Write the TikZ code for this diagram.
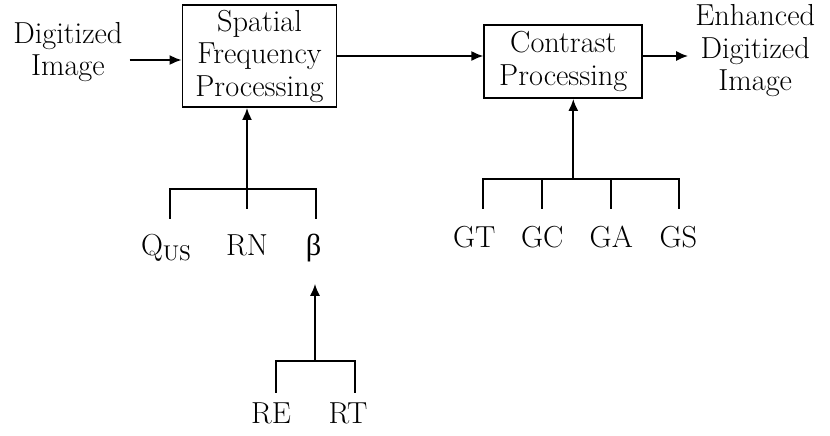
\documentclass[tikz,border=0pt]{standalone}
\usepackage{fontspec}
\usepackage{amsmath}
\usepackage{tikz}
\usetikzlibrary{arrows.meta,positioning,calc}
\newfontfamily\greekserif{Liberation Serif}

\begin{document}
\begin{tikzpicture}[
    every node/.style = {font=\fontsize{15.2}{16.25}\selectfont},
    block/.style = {rectangle, draw, line width=0.9pt, align=center, inner sep=2pt},
    lbl/.style = {anchor=base, inner sep=2pt},
    line/.style = {draw, line width=0.9pt, -{Latex[length=6pt,width=5pt]}},
    tree/.style = {draw, line width=0.9pt}
]
    \useasboundingbox (-129.75pt,28pt) rectangle (285.25pt,-189.5pt);

    % Nodes
    \node [block, minimum width=77pt, minimum height=51pt] (sfp) {Spatial\\Frequency\\Processing};
    \node [block, minimum width=79pt, minimum height=36.5pt, right=73pt of sfp, yshift=-2.75pt] (cp) {Contrast\\Processing};
    \node [align=center, left=26pt of sfp, yshift=2pt] (in) {Digitized\\Image};
    \node [align=center, right=22.5pt of cp, yshift=5.25pt] (out) {Enhanced\\Digitized\\Image};

    % Edges
    \path [line] ([yshift=-2pt]sfp.west -| in.east) -- ([yshift=-2pt]sfp.west);
    \path [line] (sfp.east) -- (sfp.east -| cp.west);
    \path [line] (sfp.east -| cp.east) -- (sfp.east -| out.west);

    % Spatial frequency parameters
    \coordinate [below=40.5pt of sfp.south, xshift=-6.25pt] (sj);
    \coordinate (qleg) at ($(sj)+(-38.5pt,0)$);
    \coordinate (bleg) at ($(sj)+(34.5pt,0)$);
    \path [tree] ([yshift=-15pt]qleg) -- (qleg) -- (bleg) -- ([yshift=-15pt]bleg);
    \path [tree] (sj) -- ([yshift=-10pt]sj);
    \path [line] (sj) -- (sj |- sfp.south);

    \node [lbl] (qus) at ($(qleg)+(-1.75pt,-33.5pt)$) {$\mathrm{Q}_{\mathrm{US}}$};
    \node [lbl] (rn) at ($(sj)+(0,-33.5pt)$) {RN};
    \node [lbl] (beta) at ($(bleg)+(-1.25pt,-33.5pt)$) {\greekserif β};

    % Beta parameters
    \coordinate [below=86pt of bleg, xshift=-0.5pt] (rj);
    \coordinate (releg) at ($(rj)+(-19.5pt,0)$);
    \coordinate (rtleg) at ($(rj)+(20pt,0)$);
    \path [tree] ([yshift=-16pt]releg) -- (releg) -- (rtleg) -- ([yshift=-16pt]rtleg);
    \path [line, shorten >=8.5pt] (rj) -- (rj |- beta.south);

    \node [lbl] (re) at ($(releg)+(-2.5pt,-31.5pt)$) {RE};
    \node [lbl] (rt) at ($(rtleg)+(-3.5pt,-31.5pt)$) {RT};

    % Contrast parameters
    \coordinate [below=40pt of cp.south, xshift=5pt] (cj);
    \coordinate (gtleg) at ($(cj)+(-45pt,0)$);
    \coordinate (gcleg) at ($(cj)+(-15.5pt,0)$);
    \coordinate (galeg) at ($(cj)+(19pt,0)$);
    \coordinate (gsleg) at ($(cj)+(53pt,0)$);
    \path [tree] ([yshift=-15pt]gtleg) -- (gtleg) -- (gsleg) -- ([yshift=-15pt]gsleg);
    \path [tree] (gcleg) -- ([yshift=-15pt]gcleg);
    \path [tree] (galeg) -- ([yshift=-15pt]galeg);
    \path [line] (cj) -- (cj |- cp.south);

    \node [lbl] (gt) at ($(gtleg)+(-4.5pt,-34.5pt)$) {GT};
    \node [lbl] (gc) at ($(gcleg)+(0,-34.5pt)$) {GC};
    \node [lbl] (ga) at ($(galeg)+(0,-34.5pt)$) {GA};
    \node [lbl] (gs) at ($(gsleg)+(-0.5pt,-34.5pt)$) {GS};

\end{tikzpicture}
\end{document}
